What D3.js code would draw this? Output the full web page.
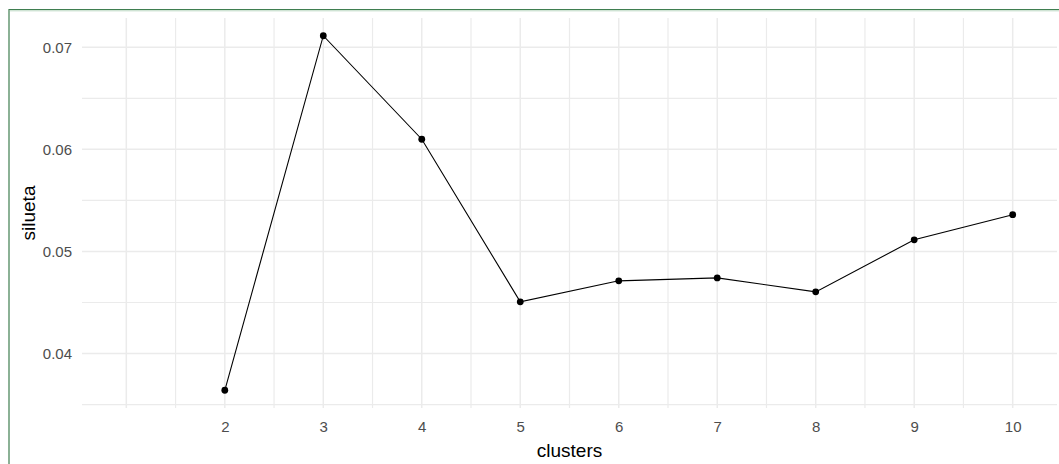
<!DOCTYPE html>
<html>
<head>
<meta charset="utf-8">
<script src="https://cdn.jsdelivr.net/npm/d3@7"></script>
<style>
  html, body { margin: 0; padding: 0; background: #fff; }
  svg { display: block; font-family: "Liberation Sans", Arial, sans-serif; }
</style>
</head>
<body>
<div id="chart"></div>
<script>
// silhouette score per number of clusters
const clusters = [2, 3, 4, 5, 6, 7, 8, 9, 10];
const silueta = [0.0364, 0.07113, 0.06099, 0.04506, 0.04712, 0.04741, 0.04604, 0.05114, 0.0536];

const xTicks = [2, 3, 4, 5, 6, 7, 8, 9, 10];
const xGridMajor = [1, 2, 3, 4, 5, 6, 7, 8, 9, 10];
const xGridMinor = [1.5, 2.5, 3.5, 4.5, 5.5, 6.5, 7.5, 8.5, 9.5];
const yTicks = [0.04, 0.05, 0.06, 0.07];
const yGridMinor = [0.035, 0.045, 0.055, 0.065];

const width = 1059;
const height = 464;
const margin = { top: 18, right: 2, bottom: 56, left: 82 };

const drawChart = (container) => {
  d3.select(container).select("svg").remove();

  const svg = d3
    .select(container)
    .append("svg")
    .attr("width", width)
    .attr("height", height);

  // green window frame (top + left)
  svg
    .append("path")
    .attr("d", `M9,${height} L9,9.5 L${width},9.5`)
    .attr("fill", "none")
    .attr("stroke", "#3f7e50")
    .attr("stroke-width", 1.2);
  svg
    .append("line")
    .attr("x1", 10)
    .attr("x2", width)
    .attr("y1", 10.8)
    .attr("y2", 10.8)
    .attr("stroke", "#a9cdb1")
    .attr("stroke-width", 0.8);

  const x = d3
    .scaleLinear()
    .domain([0.55, 10.45])
    .range([margin.left, width - margin.right]);

  const [ymin, ymax] = d3.extent(silueta);
  const pad = (ymax - ymin) * 0.05;
  const y = d3
    .scaleLinear()
    .domain([ymin - pad, ymax + pad])
    .range([height - margin.bottom, margin.top]);

  const grid = svg.append("g").attr("stroke", "#ebebeb").attr("fill", "none");

  // minor gridlines
  grid
    .selectAll(".xminor")
    .data(xGridMinor)
    .join("line")
    .attr("x1", (d) => x(d))
    .attr("x2", (d) => x(d))
    .attr("y1", margin.top)
    .attr("y2", height - margin.bottom)
    .attr("stroke-width", 1.2);
  grid
    .selectAll(".yminor")
    .data(yGridMinor)
    .join("line")
    .attr("x1", margin.left)
    .attr("x2", width - margin.right)
    .attr("y1", (d) => y(d))
    .attr("y2", (d) => y(d))
    .attr("stroke-width", 1.2);

  // major gridlines
  grid
    .selectAll(".xmajor")
    .data(xGridMajor)
    .join("line")
    .attr("x1", (d) => x(d))
    .attr("x2", (d) => x(d))
    .attr("y1", margin.top)
    .attr("y2", height - margin.bottom)
    .attr("stroke-width", 1.5);
  grid
    .selectAll(".ymajor")
    .data(yTicks)
    .join("line")
    .attr("x1", margin.left)
    .attr("x2", width - margin.right)
    .attr("y1", (d) => y(d))
    .attr("y2", (d) => y(d))
    .attr("stroke-width", 1.5);

  // axes (labels only)
  const xAxis = svg
    .append("g")
    .attr("transform", `translate(0,${height - margin.bottom})`)
    .call(d3.axisBottom(x).tickValues(xTicks).tickSize(0).tickPadding(13).tickFormat(d3.format("d")));
  xAxis.select(".domain").remove();
  xAxis
    .selectAll("text")
    .attr("fill", "#4d4d4d")
    .attr("font-size", 15)
    .attr("font-family", "Liberation Sans, Arial, sans-serif");

  const yAxis = svg
    .append("g")
    .attr("transform", `translate(${margin.left},0)`)
    .call(d3.axisLeft(y).tickValues(yTicks).tickSize(0).tickPadding(10).tickFormat(d3.format(".2f")));
  yAxis.select(".domain").remove();
  yAxis
    .selectAll("text")
    .attr("fill", "#4d4d4d")
    .attr("font-size", 15)
    .attr("font-family", "Liberation Sans, Arial, sans-serif");

  // line + points
  const pts = clusters.map((c, i) => [c, silueta[i]]);
  svg
    .append("path")
    .datum(pts)
    .attr("fill", "none")
    .attr("stroke", "#000")
    .attr("stroke-width", 1.1)
    .attr("d", d3.line().x((d) => x(d[0])).y((d) => y(d[1])));

  svg
    .selectAll(".pt")
    .data(pts)
    .join("circle")
    .attr("cx", (d) => x(d[0]))
    .attr("cy", (d) => y(d[1]))
    .attr("r", 3.4)
    .attr("fill", "#000");

  // axis titles
  svg
    .append("text")
    .attr("x", (margin.left + width - margin.right) / 2)
    .attr("y", 457)
    .attr("text-anchor", "middle")
    .attr("font-size", 19)
    .attr("fill", "#000")
    .text("clusters");

  svg
    .append("text")
    .attr("transform", `translate(35,${(margin.top + height - margin.bottom) / 2}) rotate(-90)`)
    .attr("text-anchor", "middle")
    .attr("font-size", 19)
    .attr("fill", "#000")
    .text("silueta");
};

drawChart(document.getElementById("chart"));
</script>
</body>
</html>
